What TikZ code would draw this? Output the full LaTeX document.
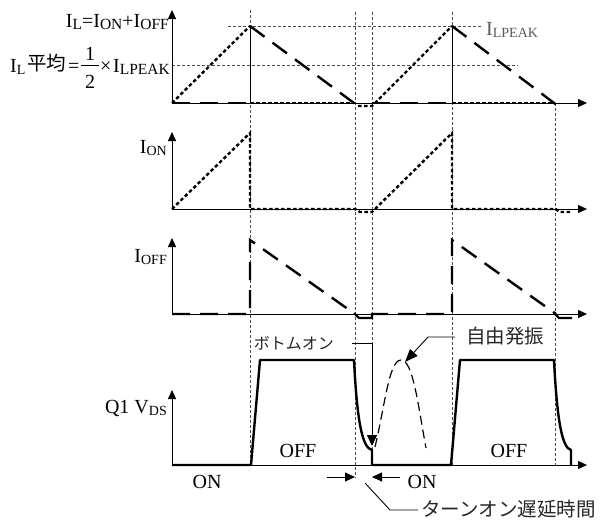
\documentclass[tikz,border=0pt]{standalone}
\usepackage{fontspec}
\setmainfont{Liberation Serif}
\newfontfamily\jpfont{Noto Sans CJK JP}
\usetikzlibrary{arrows.meta}
\newcommand\sbx[1]{\raisebox{-2pt}{\fontsize{14}{15}\selectfont #1}}
\newcommand\sbw[1]{\raisebox{-2pt}{\fontsize{15.5}{16}\selectfont #1}}
\begin{document}
\begin{tikzpicture}[x=1pt,y=-1pt,
  every node/.style={inner sep=0pt, font=\fontsize{20}{24}\selectfont},
  guide/.style={draw=black!70, line width=0.6pt, dash pattern=on 3pt off 2pt},
  axis/.style={line width=0.9pt, -{Triangle[length=9pt,width=8pt]}},
  thinv/.style={line width=0.9pt},
  ionl/.style={line width=2.4pt, dash pattern=on 3.5pt off 2.5pt},
  ioffl/.style={line width=2.4pt, dash pattern=on 18pt off 10pt},
  dipl/.style={line width=2.4pt},
  vdsl/.style={line width=2.4pt, line join=round},
  oscl/.style={line width=1.2pt, dash pattern=on 9pt off 5pt},
  leader/.style={line width=0.9pt},
  fracbar/.style={line width=0.8pt},
  jp/.style={font=\jpfont\fontsize{19.5}{22}\selectfont, text=black!85},
  jps/.style={font=\jpfont\fontsize{16}{18}\selectfont, text=black!85}]
\path[use as bounding box] (0,0) rectangle (601,523);

% guide lines
\draw[guide] (250,10) -- (250,465);
\draw[guide] (355,12) -- (355,478);
\draw[guide] (372,12) -- (372,465);
\draw[guide] (452,12) -- (452,465);
\draw[guide] (555,103) -- (555,465);
\draw[guide] (228,26) -- (483,26);
\draw[guide] (172,65) -- (518,65);

% panel 1 : I_L
\draw[axis] (172,103) -- (172,10);
\draw[axis] (172,103) -- (587,103);
\draw[thinv] (250,103) -- (250,26);
\draw[thinv] (452,103) -- (452,26);
\draw[ionl] (172,103) -- (250,26);
\draw[ionl] (250,103) -- (355,103);
\draw[ionl] (358,106) -- (372,106) -- (452,26);
\draw[ionl] (452,103) -- (555,103);
\draw[ioffl] (172,103) -- (250,103);
\draw[ioffl] (372,103) -- (452,103);
\draw[ioffl] (250,26) -- (358,106);
\draw[ioffl] (452,26) -- (558,106);

% panel 2 : I_ON
\draw[axis] (172,209) -- (172,132);
\draw[axis] (172,209) -- (587,209);
\draw[ionl] (172,209) -- (250,133) -- (250,209) -- (355,209) -- (360,212) -- (372,212) -- (452,133) -- (452,209) -- (556,209) -- (559,212) -- (572,212);

% panel 3 : I_OFF
\draw[axis] (172,314) -- (172,238);
\draw[axis] (172,314) -- (587,314);
\draw[ioffl] (172,314) -- (250,314) -- (250,240) -- (355,314);
\draw[dipl] (354,313) -- (359,318) -- (372,318) -- (372,314) -- (388,314);
\draw[ioffl] (398,314) -- (452,314) -- (452,240) -- (556,314);
\draw[dipl] (554,313) -- (559,318) -- (572,318);

% panel 4 : Vds
\draw[axis] (172,465) -- (172,390);
\draw[axis] (172,465) -- (587,465);
\draw[vdsl] (172,465) -- (251,465) -- (260,360) -- (354,360)
  .. controls (357,420) and (362,448) .. (372,450) -- (372,465) -- (451,465)
  -- (460,360) -- (554,360) .. controls (557,420) and (562,448) .. (571,450) -- (571,465);
\draw[oscl] (375,447) .. controls (385,405) and (389,360) .. (401,360)
  .. controls (413,360) and (418,405) .. (426,448);

% top label  I_L = I_ON + I_OFF
\node[anchor=base east] (nIL) at (169,27) {I\sbw{L}=I\sbw{ON}+I\sbw{OFF}};

% average label
\node[anchor=base west] (nAv1) at (10,72) {I\sbx{L}};
\node[jp, text=black, anchor=west] (nAv2) at (27,63) {平均};
\node[anchor=base west] (nAv3) at (68,72) {=};
\node[anchor=base] (nAv4) at (90,60) {1};
\node[anchor=base] (nAv5) at (90,88) {2};
\coordinate (fb1) at (81,65);
\coordinate (fb2) at (99,65);
\draw[fracbar] (fb1) -- (fb2);
\node[anchor=base west] (nAv6) at (100,72) {×};
\node[anchor=base east] (nAv7) at (170,72) {I\sbw{LPEAK}};

% other labels
\node[anchor=base west, text=black!65] (nPeak) at (486,35) {I\sbx{LPEAK}};
\node[anchor=base east] (nION) at (167,153) {I\sbx{ON}};
\node[anchor=base east] (nIOFF) at (167,262) {I\sbx{OFF}};
\node[anchor=base east] (nVDS) at (167,413) {Q1 V\sbx{DS}};
\node[anchor=base] (nOn1) at (207,488) {ON};
\node[anchor=base] (nOff1) at (298,457) {OFF};
\node[anchor=base] (nOff2) at (509,457) {OFF};
\node[anchor=base] (nOn2) at (422,488) {ON};
\node[jps, anchor=east] (nBottom) at (334,343) {ボトムオン};
\node[jp, anchor=west] (nFree) at (466,336) {自由発振};
\node[jp, anchor=west] (nDelay) at (421,509) {ターンオン遅延時間};

% leaders
\coordinate (bA) at (352,343);
\coordinate (bB) at (372,343);
\coordinate (bC) at (372,446);
\draw[leader, -{Triangle[length=11pt,width=10pt]}] (bA) -- (bB) -- (bC);
\coordinate (fA) at (455,337);
\coordinate (fB) at (428,337);
\coordinate (fC) at (405,362);
\draw[leader, -{Triangle[length=13pt,width=10pt]}] (fA) -- (fB) -- (fC);
\coordinate (dL0) at (327,477);
\coordinate (dL1) at (355,477);
\coordinate (dR0) at (400,477);
\coordinate (dR1) at (372,477);
\draw[leader, -{Triangle[length=10pt,width=9pt]}] (dL0) -- (dL1);
\draw[leader, -{Triangle[length=10pt,width=9pt]}] (dR0) -- (dR1);
\coordinate (tA) at (365,483);
\coordinate (tB) at (390,510);
\coordinate (tC) at (418,510);
\draw[leader] (tA) -- (tB) -- (tC);
\end{tikzpicture}
\end{document}
